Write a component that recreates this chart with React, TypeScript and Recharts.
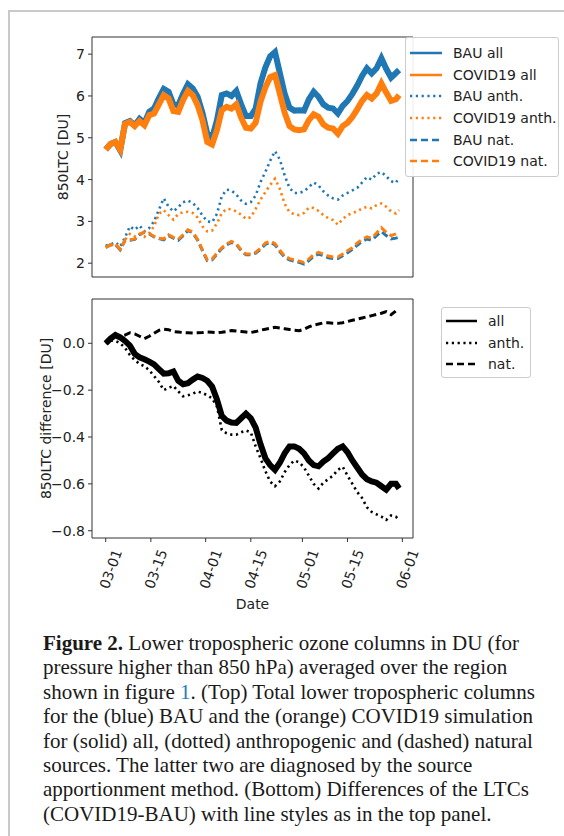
import { LineChart, Line, XAxis, YAxis, ReferenceArea, Label } from "recharts";

// days since 1 March
const days = [
  0, 1.5, 3, 4.5, 6, 7.5, 9, 10.5, 12, 13.5, 15, 16.5, 18, 19.5, 21, 22.5, 24, 25.5, 27, 28.5,
  30, 31.5, 33, 34.5, 36, 37.5, 39, 40.5, 42, 43.5, 45, 46.5, 48, 49.5, 51, 52.5, 54, 55.5, 57, 58.5,
  60, 61.5, 63, 64.5, 66, 67.5, 69, 70.5, 72, 73.5, 75, 76.5, 78, 79.5, 81, 82.5, 84, 85.5, 87, 88.5,
  90, 91,
];

const bauAll = [
  4.72, 4.85, 4.9, 4.7, 5.35, 5.4, 5.3, 5.45, 5.35, 5.62, 5.7, 5.95, 6.17, 6.1, 5.8, 5.78, 6.05, 6.28, 6.18, 5.98,
  5.6, 5.1, 5.0, 5.42, 6.02, 6.06, 6.0, 6.12, 5.8, 5.52, 5.52, 5.7, 6.3, 6.68, 6.95, 7.05, 6.55, 6.05, 5.72, 5.65,
  5.66, 5.65, 5.92, 6.1, 5.98, 5.8, 5.72, 5.7, 5.58, 5.76, 5.88, 6.05, 6.25, 6.48, 6.66, 6.54, 6.66, 6.9, 6.65, 6.44,
  6.55, 6.62,
];
const covidAll = [
  4.72, 4.85, 4.9, 4.72, 5.33, 5.38, 5.28, 5.4, 5.3, 5.54, 5.58, 5.8, 6.02, 5.94, 5.64, 5.62, 5.9, 6.12, 6.02, 5.78,
  5.42, 4.9, 4.84, 5.18, 5.66, 5.74, 5.7, 5.8, 5.48, 5.24, 5.22, 5.36, 5.86, 6.2, 6.45, 6.5, 6.05, 5.6, 5.28, 5.2,
  5.18, 5.2, 5.42, 5.56, 5.5, 5.32, 5.24, 5.22, 5.1, 5.28, 5.36, 5.5, 5.68, 5.88, 6.02, 5.94, 6.06, 6.3, 6.08, 5.88,
  5.92, 6.02,
];
const bauAnth = [
  2.42, 2.45, 2.5, 2.4, 2.62, 2.88, 2.8, 2.9, 2.76, 2.84, 3.0, 3.28, 3.55, 3.35, 3.24, 3.34, 3.46, 3.5, 3.44, 3.32,
  3.14, 3.0, 2.98, 3.18, 3.6, 3.76, 3.74, 3.64, 3.5, 3.42, 3.46, 3.62, 3.94, 4.18, 4.45, 4.68, 4.48, 4.1, 3.8, 3.68,
  3.68, 3.72, 3.82, 3.93, 3.86, 3.72, 3.62, 3.55, 3.52, 3.62, 3.68, 3.74, 3.8, 3.93, 4.06, 4.0, 4.14, 4.18, 4.08, 3.96,
  3.92, 4.06,
];
const covidAnth = [
  2.38, 2.43, 2.45, 2.32, 2.56, 2.7, 2.64, 2.7, 2.63, 2.72, 2.88, 3.18, 3.27, 3.15, 3.04, 3.18, 3.22, 3.23, 3.2, 3.09,
  2.88, 2.76, 2.78, 2.95, 3.2, 3.3, 3.29, 3.24, 3.16, 3.06, 3.1, 3.3, 3.52, 3.7, 3.87, 4.02, 3.78, 3.42, 3.22, 3.17,
  3.15, 3.2, 3.33, 3.32, 3.25, 3.15, 3.08, 3.03, 2.92, 3.06, 3.15, 3.2, 3.24, 3.31, 3.35, 3.31, 3.39, 3.43, 3.35, 3.24,
  3.19, 3.27,
];
const bauNat = [
  2.38, 2.44, 2.45, 2.32, 2.55, 2.55, 2.57, 2.68, 2.74, 2.7, 2.63, 2.59, 2.56, 2.66, 2.6, 2.55, 2.66, 2.78, 2.73, 2.55,
  2.3, 2.06, 2.08, 2.22, 2.35, 2.44, 2.5, 2.45, 2.3, 2.2, 2.2, 2.24, 2.33, 2.45, 2.5, 2.44, 2.28, 2.14, 2.08, 2.05,
  2.02, 1.98, 2.06, 2.17, 2.22, 2.18, 2.13, 2.11, 2.11, 2.18, 2.25, 2.33, 2.43, 2.52, 2.58, 2.55, 2.66, 2.76, 2.66, 2.58,
  2.6, 2.62,
];
const covidNat = [
  2.38, 2.44, 2.46, 2.33, 2.55, 2.56, 2.58, 2.69, 2.75, 2.71, 2.64, 2.6, 2.58, 2.68, 2.62, 2.57, 2.68, 2.8, 2.75, 2.57,
  2.32, 2.08, 2.1, 2.24, 2.37, 2.46, 2.52, 2.47, 2.32, 2.22, 2.22, 2.26, 2.36, 2.48, 2.53, 2.47, 2.31, 2.17, 2.11, 2.08,
  2.05, 2.02, 2.1, 2.21, 2.26, 2.22, 2.17, 2.15, 2.15, 2.22, 2.3, 2.37, 2.48, 2.57, 2.63, 2.6, 2.72, 2.85, 2.74, 2.66,
  2.7, 2.74,
];

// COVID19 - BAU
const diffAll = [
  0.0, 0.02, 0.035, 0.025, 0.01, -0.01, -0.045, -0.06, -0.068, -0.078, -0.09, -0.11, -0.13, -0.128, -0.12, -0.16, -0.175, -0.17, -0.155, -0.142,
  -0.148, -0.16, -0.185, -0.24, -0.31, -0.33, -0.338, -0.34, -0.32, -0.3, -0.32, -0.36, -0.43, -0.49, -0.52, -0.54, -0.51, -0.47, -0.44, -0.44,
  -0.45, -0.47, -0.5, -0.52, -0.525, -0.505, -0.49, -0.47, -0.45, -0.44, -0.465, -0.5, -0.53, -0.56, -0.58, -0.59, -0.595, -0.61, -0.625, -0.6,
  -0.6, -0.62,
];
const diffAnth = [
  0.0, 0.012, 0.01, 0.0, -0.02, -0.05, -0.072, -0.088, -0.098, -0.115, -0.14, -0.165, -0.2, -0.19, -0.182, -0.205, -0.226, -0.222, -0.215, -0.206,
  -0.212, -0.222, -0.235, -0.27, -0.37, -0.384, -0.39, -0.39, -0.38, -0.372, -0.38, -0.44, -0.49, -0.545, -0.59, -0.61, -0.59, -0.55, -0.52, -0.5,
  -0.508, -0.53, -0.565, -0.6, -0.62, -0.595, -0.58, -0.565, -0.54, -0.527, -0.565, -0.6, -0.635, -0.66, -0.7, -0.72, -0.73, -0.74, -0.754, -0.735,
  -0.74, -0.755,
];
const diffNat = [
  0.0, 0.02, 0.036, 0.03, 0.035, 0.045, 0.04, 0.03, 0.02, 0.03, 0.043, 0.055, 0.06, 0.058, 0.05, 0.048, 0.046, 0.045, 0.044, 0.045,
  0.046, 0.048, 0.047, 0.045, 0.047, 0.05, 0.054, 0.052, 0.05, 0.048, 0.046, 0.05, 0.056, 0.06, 0.064, 0.068, 0.065, 0.062, 0.059, 0.056,
  0.054, 0.06, 0.07, 0.078, 0.082, 0.087, 0.088, 0.086, 0.085, 0.088, 0.093, 0.098, 0.103, 0.108, 0.113, 0.118, 0.123, 0.128, 0.135, 0.122,
  0.138, 0.143,
];

const dateTicks = [0, 14, 31, 45, 61, 75, 92];
const dateLabels = ["03-01", "03-15", "04-01", "04-15", "05-01", "05-15", "06-01"];
const topTicks = [2, 3, 4, 5, 6, 7];
const diffTicks = [0, -0.2, -0.4, -0.6, -0.8];

const X_DOMAIN = [-4.25, 95.3];
const TOP_DOMAIN = [1.67, 7.41];
const DIFF_DOMAIN = [-0.831, 0.189];

const BLUE = "#1f77b4";
const ORANGE = "#ff7f0e";
const FONT = "'DejaVu Sans', sans-serif";
const SOLID = undefined;
const DOTTED = "2.2 3.6";
const DASHED = "7 4";

const topData = days.map((d, i) => ({
  day: d,
  bauAll: bauAll[i],
  covidAll: covidAll[i],
  bauAnth: bauAnth[i],
  covidAnth: covidAnth[i],
  bauNat: bauNat[i],
  covidNat: covidNat[i],
}));
const diffData = days.map((d, i) => ({ day: d, all: diffAll[i], anth: diffAnth[i], nat: diffNat[i] }));

const topLegend = [
  { name: "BAU all", color: BLUE, dash: SOLID },
  { name: "COVID19 all", color: ORANGE, dash: SOLID },
  { name: "BAU anth.", color: BLUE, dash: DOTTED },
  { name: "COVID19 anth.", color: ORANGE, dash: DOTTED },
  { name: "BAU nat.", color: BLUE, dash: DASHED },
  { name: "COVID19 nat.", color: ORANGE, dash: DASHED },
];
const diffLegend = [
  { name: "all", color: "#000", dash: SOLID },
  { name: "anth.", color: "#000", dash: DOTTED },
  { name: "nat.", color: "#000", dash: DASHED },
];

const tickStyle = { fontSize: 14, fill: "#222", fontFamily: FONT };
const fmtDiff = (v: number) => (v === 0 ? "0.0" : v.toFixed(1).replace("-", "\u2212"));

function DateTick(props: any) {
  const { x, y, payload } = props;
  const i = dateTicks.indexOf(payload.value);
  return (
    <text
      x={0}
      y={0}
      textAnchor="middle"
      dominantBaseline="central"
      transform={`translate(${x + 5},${y + 27}) rotate(-70)`}
      style={tickStyle}
      fill="#222"
    >
      {dateLabels[i]}
    </text>
  );
}

function LegendBox({ items, left, top, width, handle, gap, pad }: any) {
  return (
    <div
      style={{
        position: "absolute",
        left,
        top,
        width,
        padding: `${pad}px 0`,
        background: "rgba(255,255,255,0.9)",
        border: "1px solid #cccccc",
        borderRadius: 3,
        fontFamily: FONT,
        fontSize: 14,
        color: "#222",
      }}
    >
      {items.map((it: any) => (
        <div key={it.name} style={{ display: "flex", alignItems: "center", height: 21.7 }}>
          <svg width={handle + 4 + gap} height={10} style={{ flex: "none" }}>
            <line x1={4} x2={4 + handle} y1={5} y2={5} stroke={it.color} strokeWidth={2.5} strokeDasharray={it.dash} />
          </svg>
          <span style={{ whiteSpace: "nowrap" }}>{it.name}</span>
        </div>
      ))}
    </div>
  );
}

export default function App() {
  return (
    <div style={{ position: "relative", width: 564, height: 836, background: "#fff", overflow: "hidden" }}>
      <style>{"body{margin:0;overflow:hidden}"}</style>
      <div
        style={{
          position: "absolute",
          left: 8,
          top: 10,
          width: 600,
          height: 900,
          borderLeft: "2px solid #c9c9c9",
          borderTop: "2px solid #c9c9c9",
        }}
      />

      {/* top panel */}
      <div style={{ position: "absolute", left: 0, top: 0 }}>
        <LineChart width={564} height={287} data={topData} margin={{ top: 37, right: 151, bottom: 0, left: 34 }}>
          <XAxis
            dataKey="day"
            type="number"
            domain={X_DOMAIN}
            ticks={dateTicks}
            tick={false}
            height={10}
            tickSize={4}
            axisLine={false}
            tickLine={{ stroke: "#333" }}
          />
          <YAxis
            type="number"
            domain={TOP_DOMAIN}
            ticks={topTicks}
            width={58}
            tickSize={4}
            tickMargin={3}
            axisLine={false}
            tickLine={{ stroke: "#333" }}
            tick={tickStyle}
          >
            <Label value="850LTC [DU]" angle={-90} position="center" style={tickStyle} />
          </YAxis>
          <Line dataKey="bauAll" stroke={BLUE} strokeWidth={6} dot={false} isAnimationActive={false} />
          <Line dataKey="covidAll" stroke={ORANGE} strokeWidth={6} dot={false} isAnimationActive={false} />
          <Line dataKey="bauAnth" stroke={BLUE} strokeWidth={2.6} strokeDasharray={DOTTED} dot={false} isAnimationActive={false} />
          <Line dataKey="covidAnth" stroke={ORANGE} strokeWidth={2.6} strokeDasharray={DOTTED} dot={false} isAnimationActive={false} />
          <Line dataKey="bauNat" stroke={BLUE} strokeWidth={3} strokeDasharray={DASHED} dot={false} isAnimationActive={false} />
          <Line dataKey="covidNat" stroke={ORANGE} strokeWidth={3} strokeDasharray={DASHED} dot={false} isAnimationActive={false} />
          <ReferenceArea
            x1={X_DOMAIN[0]}
            x2={X_DOMAIN[1]}
            y1={TOP_DOMAIN[0]}
            y2={TOP_DOMAIN[1]}
            ifOverflow="visible"
            fill="none"
            fillOpacity={0}
            stroke="#333"
            strokeWidth={1}
          />
        </LineChart>
      </div>
      <LegendBox items={topLegend} left={405} top={37} width={152} handle={32} gap={11} pad={4} />

      {/* bottom panel */}
      <div style={{ position: "absolute", left: 0, top: 280 }}>
        <LineChart width={564} height={340} data={diffData} margin={{ top: 19, right: 151, bottom: 0, left: 0 }}>
          <XAxis
            dataKey="day"
            type="number"
            domain={X_DOMAIN}
            ticks={dateTicks}
            tick={<DateTick />}
            height={82}
            tickSize={4}
            tickMargin={0}
            axisLine={false}
            tickLine={{ stroke: "#333" }}
            interval={0}
          >
            <Label value="Date" position="insideBottom" offset={11} style={tickStyle} />
          </XAxis>
          <YAxis
            type="number"
            domain={DIFF_DOMAIN}
            ticks={diffTicks}
            tickFormatter={fmtDiff}
            width={92}
            tickSize={4}
            tickMargin={3}
            axisLine={false}
            tickLine={{ stroke: "#333" }}
            tick={tickStyle}
          >
            <Label value="850LTC difference [DU]" angle={-90} position="center" style={tickStyle} />
          </YAxis>
          <Line dataKey="all" stroke="#000" strokeWidth={6} dot={false} isAnimationActive={false} />
          <Line dataKey="anth" stroke="#000" strokeWidth={2.6} strokeDasharray={DOTTED} dot={false} isAnimationActive={false} />
          <Line dataKey="nat" stroke="#000" strokeWidth={3} strokeDasharray={DASHED} dot={false} isAnimationActive={false} />
          <ReferenceArea
            x1={X_DOMAIN[0]}
            x2={X_DOMAIN[1]}
            y1={DIFF_DOMAIN[0]}
            y2={DIFF_DOMAIN[1]}
            ifOverflow="visible"
            fill="none"
            fillOpacity={0}
            stroke="#333"
            strokeWidth={1}
          />
        </LineChart>
      </div>
      <LegendBox items={diffLegend} left={441} top={307} width={88} handle={31} gap={11} pad={2} />

      {/* caption */}
      <div
        style={{
          position: "absolute",
          left: 43,
          top: 631,
          fontFamily: "'Liberation Serif', 'Times New Roman', serif",
          fontSize: 21,
          lineHeight: "24.4px",
          color: "#1a1a1a",
          whiteSpace: "nowrap",
        }}
      >
        <b>Figure 2.</b> Lower tropospheric ozone columns in DU (for
        <br />
        pressure higher than 850 hPa) averaged over the region
        <br />
        shown in figure <span style={{ color: "#2a7ab8" }}>1</span>. (Top) Total lower tropospheric columns
        <br />
        for the (blue) BAU and the (orange) COVID19 simulation
        <br />
        for (solid) all, (dotted) anthropogenic and (dashed) natural
        <br />
        sources. The latter two are diagnosed by the source
        <br />
        apportionment method. (Bottom) Differences of the LTCs
        <br />
        (COVID19-BAU) with line styles as in the top panel.
      </div>
    </div>
  );
}
